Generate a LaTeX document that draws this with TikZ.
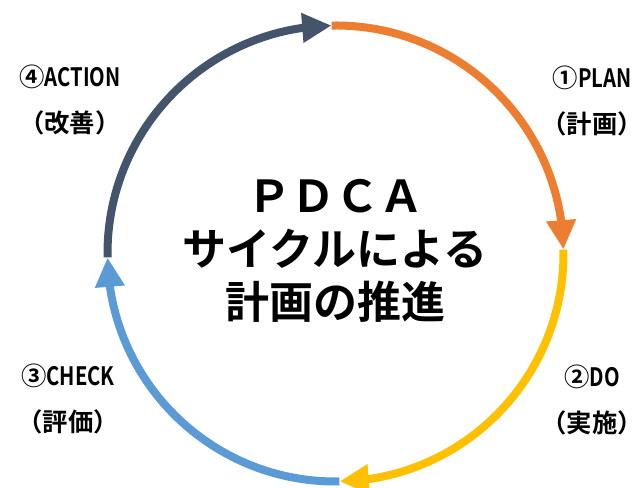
\documentclass[tikz,border=0pt]{standalone}
\usepackage{fontspec}
\setmainfont{Noto Sans CJK JP}[BoldFont={Noto Sans CJK JP Bold}]
\newfontfamily\narrowlatin{Noto Sans CJK JP}[BoldFont={Noto Sans CJK JP Bold}, FakeStretch=0.8]
\usetikzlibrary{arrows.meta, bending}
\definecolor{planorange}{HTML}{ED7D31}
\definecolor{doyellow}{HTML}{FFC000}
\definecolor{checkblue}{HTML}{5B9BD5}
\definecolor{actslate}{HTML}{44546A}

\begin{document}
\begin{tikzpicture}[x=0.75pt, y=0.75pt,
  cyclearc/.style={line width=6pt, -{Triangle[length=22pt, width=21pt]}},
  steplabel/.style={font=\bfseries\fontsize{19}{34}\selectfont, align=center}]
\useasboundingbox (0,0) rectangle (643,488);
\coordinate (O) at (335.5,234.5);
\draw[cyclearc, planorange] (O) ++(91:228) arc[start angle=91, end angle=1, radius=228];
\draw[cyclearc, doyellow] (O) ++(1:228) arc[start angle=1, end angle=-89, radius=228];
\draw[cyclearc, checkblue] (O) ++(-89:228) arc[start angle=-89, end angle=-179, radius=228];
\draw[cyclearc, actslate] (O) ++(181:228) arc[start angle=181, end angle=91, radius=228];
\node[font=\bfseries\fontsize{33}{40}\selectfont, align=center] (title) at (335,237)
  {ＰＤＣＡ\\サイクルによる\\計画の推進};
\node[steplabel] (plan) at (592,387) {①{\narrowlatin PLAN}\\（計画）};
\node[steplabel] (do) at (592,88) {②{\narrowlatin DO}\\（実施）};
\node[steplabel] (check) at (68,89) {③{\narrowlatin CHECK}\\（評価）};
\node[steplabel] (act) at (70,388) {④{\narrowlatin ACTION}\\（改善）};
\end{tikzpicture}
\end{document}
